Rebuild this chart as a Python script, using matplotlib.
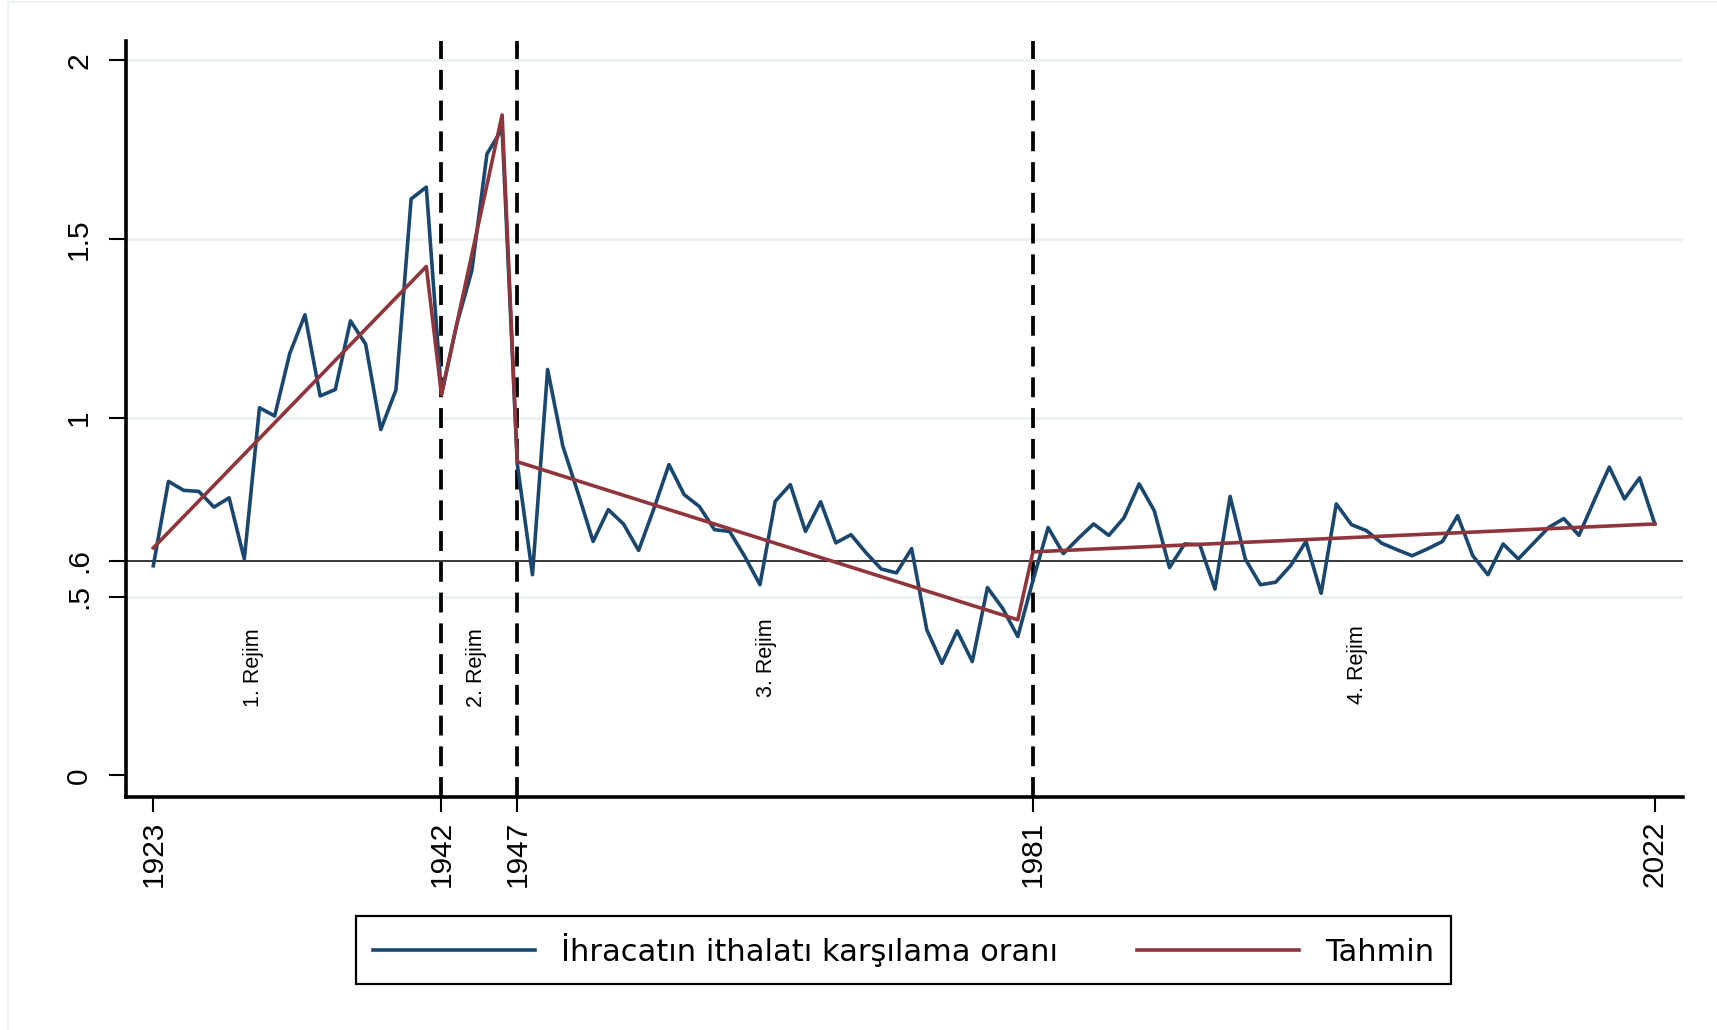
import numpy as np
import matplotlib.pyplot as plt
from matplotlib.patches import Rectangle

# ihracatin ithalati karsilama orani, 1923-2022
years = list(range(1923, 2023))
oran = [0.586, 0.822, 0.797, 0.794, 0.750, 0.776, 0.605, 1.028, 1.005, 1.180,
        1.288, 1.061, 1.079, 1.271, 1.206, 0.967, 1.078, 1.612, 1.645, 1.065,
        1.260, 1.411, 1.738, 1.808, 0.870, 0.561, 1.135, 0.921, 0.790, 0.654,
        0.743, 0.703, 0.629, 0.745, 0.869, 0.785, 0.752, 0.687, 0.682, 0.612,
        0.533, 0.766, 0.813, 0.682, 0.765, 0.650, 0.673, 0.622, 0.577, 0.566,
        0.634, 0.407, 0.313, 0.404, 0.318, 0.525, 0.467, 0.388, 0.545, 0.693,
        0.620, 0.663, 0.703, 0.671, 0.720, 0.815, 0.740, 0.581, 0.647, 0.645,
        0.521, 0.780, 0.605, 0.533, 0.540, 0.587, 0.654, 0.509, 0.759, 0.701,
        0.684, 0.649, 0.631, 0.614, 0.633, 0.654, 0.726, 0.614, 0.561, 0.647,
        0.605, 0.649, 0.693, 0.718, 0.671, 0.768, 0.862, 0.773, 0.832, 0.703]

# tahmin (piecewise trend) - break points
tahmin_years = [1923, 1941, 1942, 1946, 1947, 1980, 1981, 2022]
tahmin = [0.636, 1.423, 1.065, 1.847, 0.877, 0.435, 0.625, 0.703]

breaks = [1942, 1947, 1981]
xticks = [1923, 1942, 1947, 1981, 2022]
yticks = [0, 0.5, 0.6, 1, 1.5, 2]
ytick_labels = ['0', '.5', '.6', '1', '1.5', '2']

rejim_labels = ['1. Rejim', '2. Rejim', '3. Rejim', '4. Rejim']
rejim_x = [1929.6, 1944.3, 1963.4, 2002.4]
rejim_y = [0.30, 0.30, 0.33, 0.31]

navy = '#1a476f'
maroon = '#90353b'
gridc = '#eaf2f3'
font = ['Liberation Sans', 'DejaVu Sans']

fig = plt.figure(figsize=(17.17, 10.30), dpi=100)
ax = fig.add_axes([126 / 1717, 1 - 797 / 1030, (1683 - 126) / 1717, (797 - 41) / 1030])

# outer graph region border (only left and top are visible)
fig.patches.append(Rectangle((8 / 1717, -0.1), 1.2, 1.1 - 2 / 1030, transform=fig.transFigure,
                             fill=False, edgecolor=gridc, linewidth=1.5))

for g in [0.5, 1, 1.5, 2]:
    ax.axhline(g, color=gridc, lw=2.2, zorder=0)
ax.axhline(0.6, color='black', lw=1.1, zorder=1)
for b in breaks:
    ax.axvline(b, color='black', lw=2.7, dashes=(5.3, 2.9), zorder=2)

ax.plot(years, oran, color=navy, lw=2.6, label='İhracatın ithalatı karşılama oranı', zorder=3)
ax.plot(tahmin_years, tahmin, color=maroon, lw=2.6, label='Tahmin', zorder=4)

for lab, x, y in zip(rejim_labels, rejim_x, rejim_y):
    ax.text(x, y, lab, rotation=90, ha='center', va='center', fontsize=15.5, family=font)

ax.set_xlim(1921.2, 2023.86)
ax.set_ylim(-0.0607, 2.0537)

ax.set_xticks(xticks)
ax.set_xticklabels([str(x) for x in xticks], rotation=90, fontsize=21.5, family=font)
ax.set_yticks(yticks)
ax.set_yticklabels(ytick_labels, rotation=90, va='center', fontsize=21.5, family=font)
ax.tick_params(axis='x', length=10.8, width=1.5, pad=6.5)
ax.tick_params(axis='y', length=12.2, width=1.5, pad=11.5)

ax.spines['top'].set_visible(False)
ax.spines['right'].set_visible(False)
ax.spines['left'].set_linewidth(2.6)
ax.spines['bottom'].set_linewidth(2.6)

leg = fig.legend(loc='center', bbox_to_anchor=(903.5 / 1717, 1 - 950 / 1030), ncol=2,
                 frameon=True, fancybox=False, edgecolor='black', framealpha=1,
                 prop={'family': 'DejaVu Sans', 'size': 22},
                 handlelength=5.3, handletextpad=0.85, columnspacing=2.6,
                 borderpad=0.55, borderaxespad=0)
leg.get_frame().set_linewidth(1.6)

fig.savefig('out.png', dpi=100)
